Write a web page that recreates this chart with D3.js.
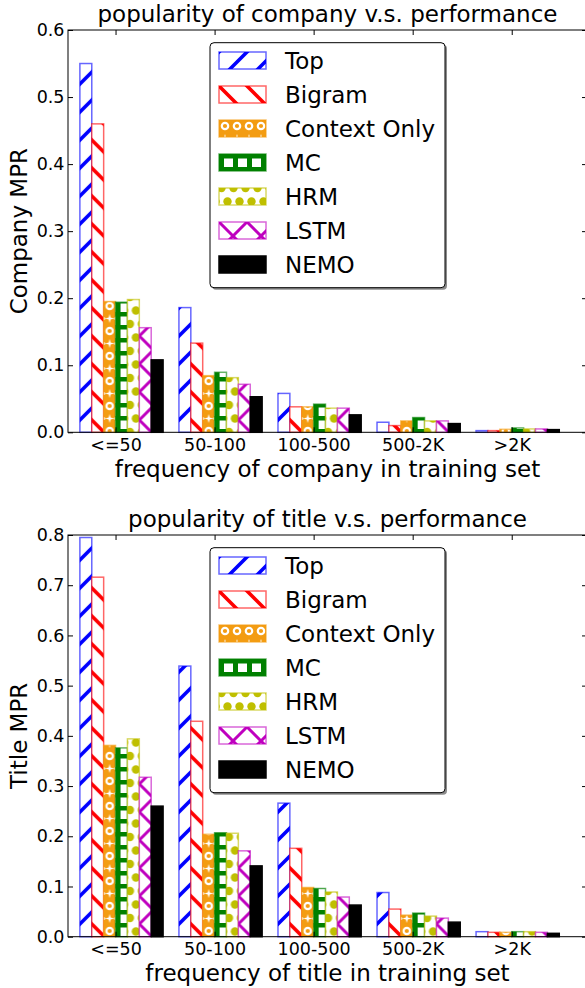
<!DOCTYPE html>
<html><head><meta charset="utf-8">
<script src="https://cdn.jsdelivr.net/npm/d3@7/dist/d3.min.js"></script>
<style>
body{margin:0;background:#fff}
svg{display:block}
text{font-family:"DejaVu Sans",sans-serif;fill:#000}
</style>
</head><body>
<svg id="chart" width="585" height="988"></svg>
<script>
// ---------- data ----------
const seriesNames = ["Top", "Bigram", "Context Only", "MC", "HRM", "LSTM", "NEMO"];
const categories = ["<=50", "50-100", "100-500", "500-2K", ">2K"];

// popularity of company
const companyTop     = [0.550, 0.186, 0.058, 0.015, 0.0025];
const companyBigram  = [0.460, 0.133, 0.038, 0.010, 0.0025];
const companyContext = [0.195, 0.0845, 0.038, 0.017, 0.0045];
const companyMC      = [0.194, 0.0895, 0.042, 0.022, 0.0065];
const companyHRM     = [0.198, 0.0815, 0.036, 0.017, 0.005];
const companyLSTM    = [0.156, 0.0716, 0.036, 0.017, 0.005];
const companyNEMO    = [0.108, 0.053, 0.026, 0.013, 0.004];

// popularity of title
const titleTop     = [0.795, 0.539, 0.266, 0.088, 0.010];
const titleBigram  = [0.716, 0.429, 0.176, 0.055, 0.0087];
const titleContext = [0.381, 0.204, 0.098, 0.043, 0.0087];
const titleMC      = [0.376, 0.207, 0.096, 0.047, 0.010];
const titleHRM     = [0.394, 0.206, 0.089, 0.041, 0.010];
const titleLSTM    = [0.3175, 0.171, 0.079, 0.037, 0.0087];
const titleNEMO    = [0.260, 0.141, 0.063, 0.029, 0.0067];

const companyTicks = [0, 0.1, 0.2, 0.3, 0.4, 0.5, 0.6];
const titleTicks = [0, 0.1, 0.2, 0.3, 0.4, 0.5, 0.6, 0.7, 0.8];

// ---------- styles ----------
const seriesColors = ["#0000ff", "#ff0000", "#f39c12", "#008000", "#bfbf00", "#bf00bf", "#000000"];
const seriesFills = ["url(#pTop)", "url(#pBigram)", "url(#pCtx)", "url(#pMC)", "url(#pHRM)", "url(#pLSTM)", "#000"];

const svg = d3.select("#chart");
const defs = svg.append("defs");

function pat(id, w, h) {
  return defs.append("pattern").attr("id", id).attr("patternUnits", "userSpaceOnUse")
    .attr("width", w).attr("height", h);
}
const S = 28;
// Top '/'
let p = pat("pTop", S, S);
p.append("rect").attr("width", S).attr("height", S).attr("fill", "#fff");
p.append("path").attr("d", `M-7,7L7,-7M0,${S}L${S},0M${S-7},${S+7}L${S+7},${S-7}`)
  .attr("stroke", "#0000ff").attr("stroke-width", 3.6);
// Bigram '\'
p = pat("pBigram", S, S);
p.append("rect").attr("width", S).attr("height", S).attr("fill", "#fff");
p.append("path").attr("d", `M-7,${S-7}L7,${S+7}M0,0L${S},${S}M${S-7},-7L${S+7},7`)
  .attr("stroke", "#ff0000").attr("stroke-width", 3.6);
// LSTM 'x'
p = pat("pLSTM", S, S);
p.append("rect").attr("width", S).attr("height", S).attr("fill", "#fff");
p.append("path").attr("d", `M-7,7L7,-7M0,${S}L${S},0M${S-7},${S+7}L${S+7},${S-7}M-7,${S-7}L7,${S+7}M0,0L${S},${S}M${S-7},-7L${S+7},7`)
  .attr("stroke", "#bf00bf").attr("stroke-width", 3);
// Context Only: orange with white rings and stars
p = pat("pCtx", 12, 25);
p.append("rect").attr("width", 12).attr("height", 25).attr("fill", "#f39c12");
p.append("circle").attr("cx", 6).attr("cy", 6).attr("r", 3.2).attr("fill", "none")
  .attr("stroke", "#fff").attr("stroke-width", 2.2);
p.append("path").attr("d", "M6,14L7,17.5L10.5,18.5L7,19.5L6,23L5,19.5L1.5,18.5L5,17.5Z").attr("fill", "#fff");
p.append("circle").attr("cx", 0).attr("cy", 18.5).attr("r", 1.6).attr("fill", "#fff");
p.append("circle").attr("cx", 12).attr("cy", 18.5).attr("r", 1.6).attr("fill", "#fff");
// MC: green ladder grid
p = pat("pMC", 14, 13);
p.append("rect").attr("width", 14).attr("height", 13).attr("fill", "#fff");
p.append("rect").attr("x", 0).attr("width", 5).attr("height", 13).attr("fill", "#008000");
p.append("rect").attr("y", 0).attr("width", 14).attr("height", 4.5).attr("fill", "#008000");
// HRM: olive dots
p = pat("pHRM", 12, 27);
p.append("rect").attr("width", 12).attr("height", 27).attr("fill", "#fff");
[[2.5, 0], [2.5, 27], [8.5, 13.5], [14.5, 0], [14.5, 27], [-3.5, 13.5]].forEach(c =>
  p.append("circle").attr("cx", c[0]).attr("cy", c[1]).attr("r", 4.2).attr("fill", "#bfbf00"));

// ---------- layout ----------
const left = 68, right = 587;
const x = d3.scaleLinear().domain([-0.12, 5.12]).range([left, right]);
const barW = 0.12;

function drawChart(cfg) {
  const { top, bottom, ymax, ticks, values, title, xlabel, ylabel } = cfg;
  const y = d3.scaleLinear().domain([0, ymax]).range([bottom, top]);
  const g = svg.append("g");
  const w = x(barW) - x(0);

  values.forEach((vals, j) => {
    vals.forEach((v, i) => {
      const bx = x(i + j * barW);
      g.append("g").attr("transform", `translate(${bx},0)`)
        .append("rect")
        .attr("x", 0).attr("y", y(v))
        .attr("width", w).attr("height", y(0) - y(v))
        .attr("fill", seriesFills[j])
        .attr("stroke", seriesColors[j])
        .attr("stroke-opacity", j === 6 ? 1 : 0.6)
        .attr("stroke-width", 1.5);
    });
  });

  const centers = categories.map((c, i) => i + 3 * barW);
  const fmt = d3.format(".1f");

  const axL = g.append("g").attr("transform", `translate(${left},0)`)
    .call(d3.axisLeft(y).tickValues(ticks).tickSize(-5).tickSizeOuter(0).tickPadding(3.5).tickFormat(fmt));
  const axR = g.append("g").attr("transform", `translate(${right},0)`)
    .call(d3.axisRight(y).tickValues(ticks).tickSize(-5).tickSizeOuter(0).tickFormat(""));
  const axT = g.append("g").attr("transform", `translate(0,${top})`)
    .call(d3.axisTop(x).tickValues(centers).tickSize(-5).tickSizeOuter(0).tickFormat(""));
  const axB = g.append("g").attr("transform", `translate(0,${bottom})`)
    .call(d3.axisBottom(x).tickValues(centers).tickSize(-5).tickSizeOuter(0).tickPadding(6)
      .tickFormat((d, i) => categories[i]));
  [axL, axR, axT, axB].forEach(a => {
    a.select(".domain").remove();
    a.selectAll("line").attr("stroke", "#000").attr("stroke-width", 1);
    a.selectAll("text").attr("font-size", "17.5px").attr("font-family", "DejaVu Sans").attr("fill", "#000");
  });

  g.append("rect").attr("x", left).attr("y", top).attr("width", right - left).attr("height", bottom - top)
    .attr("fill", "none").attr("stroke", "#000").attr("stroke-width", 1);

  const cx = (left + right) / 2;
  g.append("text").attr("x", cx).attr("y", top - 8).attr("text-anchor", "middle")
    .attr("font-size", "23px").text(title);
  g.append("text").attr("x", cx).attr("y", bottom + 44.5).attr("text-anchor", "middle")
    .attr("font-size", "23px").text(xlabel);
  const cy = (top + bottom) / 2;
  g.append("text").attr("transform", `translate(27,${cy}) rotate(-90)`).attr("text-anchor", "middle")
    .attr("font-size", "23px").text(ylabel);

  // legend
  const lg = g.append("g").attr("transform", `translate(210,${top + 12.7})`);
  lg.append("rect").attr("x", 2).attr("y", 2).attr("width", 235).attr("height", 245).attr("rx", 4)
    .attr("fill", "#000").attr("fill-opacity", 0.45);
  lg.append("rect").attr("width", 235).attr("height", 245).attr("rx", 4)
    .attr("fill", "#fff").attr("stroke", "#000").attr("stroke-width", 1);
  seriesNames.forEach((name, j) => {
    const ry = 9.3 + j * 34;
    lg.append("g").attr("transform", `translate(9,${ry})`)
      .append("rect").attr("width", 47).attr("height", 17)
      .attr("fill", seriesFills[j]).attr("stroke", seriesColors[j])
      .attr("stroke-opacity", j === 6 ? 1 : 0.6).attr("stroke-width", 1.5);
    lg.append("text").attr("x", 75).attr("y", ry + 17).attr("font-size", "23px").text(name);
  });
}

drawChart({
  top: 30, bottom: 432.3, ymax: 0.6, ticks: companyTicks,
  values: [companyTop, companyBigram, companyContext, companyMC, companyHRM, companyLSTM, companyNEMO],
  title: "popularity of company v.s. performance",
  xlabel: "frequency of company in training set",
  ylabel: "Company MPR"
});
drawChart({
  top: 535, bottom: 936.7, ymax: 0.8, ticks: titleTicks,
  values: [titleTop, titleBigram, titleContext, titleMC, titleHRM, titleLSTM, titleNEMO],
  title: "popularity of title v.s. performance",
  xlabel: "frequency of title in training set",
  ylabel: "Title MPR"
});
</script>
</body></html>
